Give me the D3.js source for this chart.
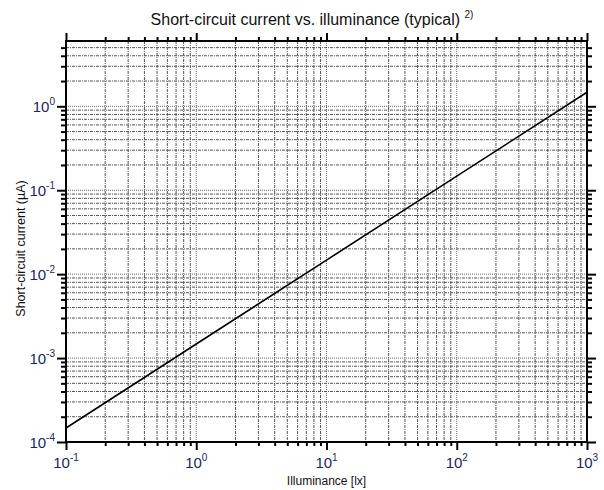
<!DOCTYPE html>
<html><head><meta charset="utf-8">
<script src="https://cdn.jsdelivr.net/npm/d3@7"></script>
<style>body{margin:0;background:#fff}svg{display:block}</style>
</head><body>
<script>
const illuminance = [0.1, 1, 10, 100, 1000];
const current = [1.47e-4, 1.47e-3, 1.47e-2, 1.47e-1, 1.47];
const xDomain = [0.1, 1000];
const yDomain = [1e-4, 6];
const xMajorTicks = [0.1, 1, 10, 100, 1000];
const yMajorTicks = [1e-4, 1e-3, 1e-2, 1e-1, 1];
const titleText = "Short-circuit current vs. illuminance (typical)";
const titleNote = "2)";
const xTitle = "Illuminance [lx]";
const yTitle = "Short-circuit current (\u00b5A)";

const W = 604, H = 490;
const m = {left: 66, right: 17, top: 41, bottom: 48};
const svg = d3.select("body").append("svg").attr("width", W).attr("height", H)
  .style("font-family", "Liberation Sans, Arial, sans-serif");
const x = d3.scaleLog().domain(xDomain).range([m.left, W - m.right]);
const y = d3.scaleLog().domain(yDomain).range([H - m.bottom, m.top]);

function minorTicks(dom) {
  const out = [];
  const lo = Math.floor(Math.log10(dom[0])), hi = Math.ceil(Math.log10(dom[1]));
  for (let e = lo; e <= hi; e++) for (let k = 2; k <= 9; k++) {
    const v = k * Math.pow(10, e);
    if (v > dom[0] && v < dom[1]) out.push(v);
  }
  return out;
}
const xMinor = minorTicks(xDomain), yMinor = minorTicks(yDomain);
const grid = svg.append("g");
xMinor.forEach(v => grid.append("line").attr("x1", x(v)).attr("x2", x(v)).attr("y1", m.top).attr("y2", H - m.bottom)
  .attr("stroke", "#555").attr("stroke-dasharray", "3,1,1,1"));
xMajorTicks.slice(1, -1).forEach(v => grid.append("line").attr("x1", x(v)).attr("x2", x(v)).attr("y1", m.top).attr("y2", H - m.bottom)
  .attr("stroke", "#666").attr("stroke-dasharray", "1,1"));
yMinor.forEach(v => grid.append("line").attr("y1", y(v)).attr("y2", y(v)).attr("x1", m.left).attr("x2", W - m.right)
  .attr("stroke", "#555").attr("stroke-dasharray", "3,1,1,1"));
yMajorTicks.slice(1).forEach(v => grid.append("line").attr("y1", y(v)).attr("y2", y(v)).attr("x1", m.left).attr("x2", W - m.right)
  .attr("stroke", "#666").attr("stroke-dasharray", "1,1"));

function axisGroup(axisFn, scale, tr, ticks, size) {
  const g = svg.append("g").attr("transform", tr)
    .call(axisFn(scale).tickValues(ticks).tickSize(size).tickFormat(""));
  g.select(".domain").remove();
  g.selectAll(".tick line").attr("stroke", "#000").attr("stroke-width", 2);
  return g;
}
axisGroup(d3.axisBottom, x, `translate(0,${H - m.bottom})`, xMinor, 4);
axisGroup(d3.axisBottom, x, `translate(0,${H - m.bottom})`, xMajorTicks, 8);
axisGroup(d3.axisTop, x, `translate(0,${m.top})`, xMinor, 4);
axisGroup(d3.axisTop, x, `translate(0,${m.top})`, xMajorTicks, 8);
axisGroup(d3.axisLeft, y, `translate(${m.left},0)`, yMinor, 5);
axisGroup(d3.axisLeft, y, `translate(${m.left},0)`, yMajorTicks, 9);
axisGroup(d3.axisRight, y, `translate(${W - m.right},0)`, yMinor, 5);
axisGroup(d3.axisRight, y, `translate(${W - m.right},0)`, yMajorTicks, 9);

svg.append("rect").attr("x", m.left).attr("y", m.top).attr("width", W - m.left - m.right)
  .attr("height", H - m.top - m.bottom).attr("fill", "none").attr("stroke", "#000").attr("stroke-width", 2);

svg.append("path").datum(illuminance.map((d, i) => [d, current[i]]))
  .attr("d", d3.line().x(d => x(d[0])).y(d => y(d[1])))
  .attr("fill", "none").attr("stroke", "#000").attr("stroke-width", 1.6);

const labColor = "#1c2463";
xMajorTicks.forEach(v => {
  const e = Math.round(Math.log10(v));
  const t = svg.append("text").attr("x", x(v)).attr("y", H - m.bottom + 26)
    .attr("text-anchor", "middle").attr("fill", labColor).attr("font-size", 15);
  t.append("tspan").text("10");
  t.append("tspan").attr("dy", -7).attr("font-size", 10).text(e);
});
yMajorTicks.forEach(v => {
  const e = Math.round(Math.log10(v));
  const t = svg.append("text").attr("x", m.left - 11).attr("y", y(v) + 6)
    .attr("text-anchor", "end").attr("fill", labColor).attr("font-size", 15);
  t.append("tspan").text("10");
  t.append("tspan").attr("dy", -7).attr("font-size", 10).text(e);
});

const tt = svg.append("text").attr("x", 312).attr("y", 25).attr("text-anchor", "middle")
  .attr("font-size", 16).attr("fill", "#111");
tt.append("tspan").text(titleText + " ");
tt.append("tspan").attr("dy", -7).attr("font-size", 10).text(titleNote);
svg.append("text").attr("x", (m.left + W - m.right) / 2).attr("y", 485).attr("text-anchor", "middle")
  .attr("font-size", 12).attr("fill", "#111").text(xTitle);
svg.append("text").attr("transform", `translate(25,${(m.top + H - m.bottom) / 2 + 7}) rotate(-90)`)
  .attr("text-anchor", "middle").attr("font-size", 12.5).attr("fill", "#111").text(yTitle);
</script>
</body></html>
